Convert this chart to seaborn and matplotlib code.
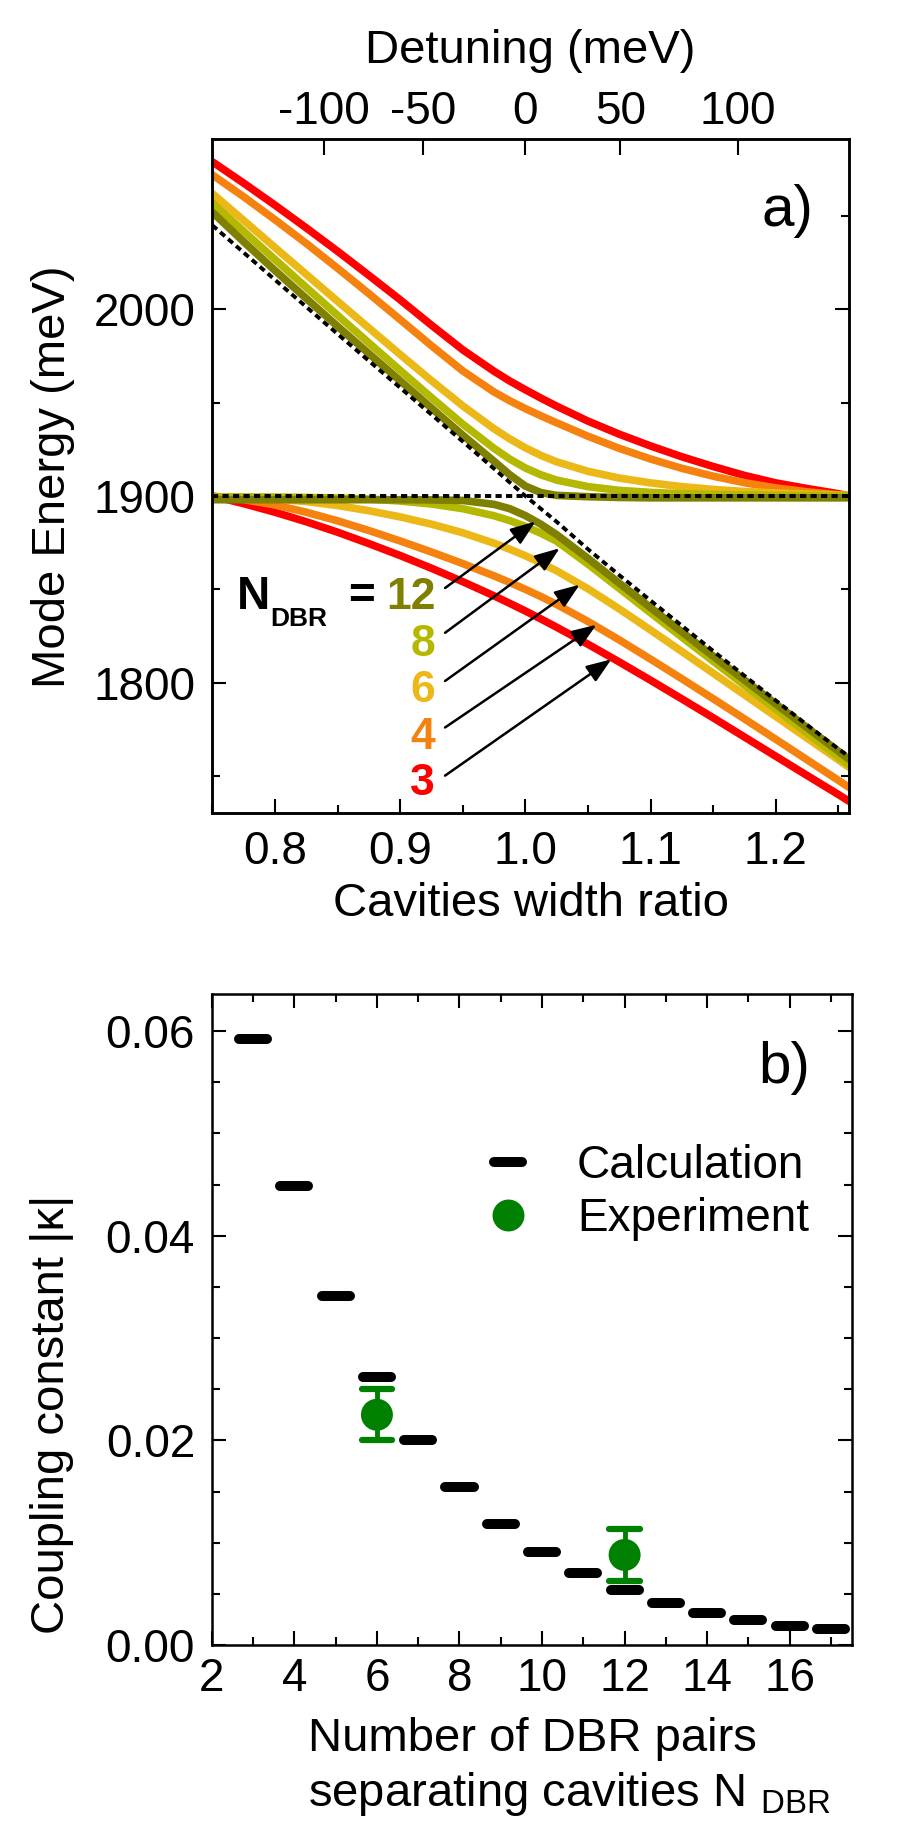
import numpy as np
import pandas as pd
import matplotlib
matplotlib.use("Agg")
import matplotlib.pyplot as plt
from matplotlib.lines import Line2D
from matplotlib.ticker import MultipleLocator, FormatStrFormatter
import seaborn as sns

sns.set_style("ticks")
plt.rcParams["font.family"] = ["Liberation Sans", "DejaVu Sans"]
plt.rcParams["mathtext.fontset"] = "custom"
plt.rcParams["mathtext.rm"] = "Liberation Sans"
plt.rcParams["mathtext.bf"] = "Liberation Sans:bold"
plt.rcParams["axes.linewidth"] = 1.8
for key in ["text.color", "axes.labelcolor", "xtick.color", "ytick.color", "axes.edgecolor"]:
    plt.rcParams[key] = "black"

# ---- panel a: mode energies (meV) vs cavities width ratio
ratio = [0.75, 0.775, 0.80, 0.825, 0.85, 0.875, 0.90, 0.925, 0.95, 0.975, 0.9875, 1.0,
         1.0125, 1.025, 1.05, 1.075, 1.10, 1.125, 1.15, 1.175, 1.20, 1.225, 1.25, 1.2585]

upper_n3 = [2079, 2067.6, 2055.8, 2043.6, 2031.1, 2018.2, 2005.1, 1991.5, 1978.3, 1966.8, 1961.6,
            1956.9, 1952.4, 1948.1, 1940.1, 1933.1, 1926.8, 1921.0, 1915.8, 1911.0, 1907.0,
            1904.0, 1901.2, 1900.0]
lower_n3 = [1900, 1895.9, 1891.3, 1886.2, 1880.6, 1874.5, 1868.1, 1861.3, 1854.1, 1846.5, 1842.5,
            1838.4, 1834.1, 1829.7, 1820.6, 1811.1, 1801.3, 1791.3, 1781.2, 1770.9, 1760.6,
            1750.3, 1740.1, 1736.5]
upper_n4 = [2072, 2060.3, 2048.0, 2035.3, 2022.0, 2008.4, 1994.5, 1980.5, 1967.0, 1955.7, 1951.0,
            1946.8, 1942.9, 1939.2, 1932.0, 1925.5, 1919.8, 1914.8, 1910.6, 1907.1, 1904.3,
            1902.2, 1900.6, 1900.0]
lower_n4 = [1900, 1898.1, 1895.2, 1891.3, 1886.7, 1881.5, 1875.9, 1870.0, 1863.8, 1857.2, 1853.7,
            1850.0, 1846.1, 1841.9, 1832.8, 1822.9, 1812.6, 1802.1, 1791.4, 1780.6, 1769.7,
            1758.7, 1747.7, 1743.9]
upper_n6 = [2062, 2047.6, 2033.1, 2018.7, 2004.3, 1990.0, 1975.8, 1961.8, 1948.3, 1936.0, 1930.6,
            1925.8, 1921.7, 1918.3, 1913.2, 1909.6, 1907.0, 1905.0, 1903.5, 1902.4, 1901.6,
            1901.0, 1900.5, 1900.3]
lower_n6 = [1899.5, 1899.1, 1898.4, 1897.0, 1894.9, 1892.1, 1888.8, 1884.9, 1880.3, 1874.7, 1871.5,
            1868.0, 1864.1, 1859.9, 1850.3, 1839.5, 1828.2, 1816.7, 1805.1, 1793.5, 1781.9,
            1770.3, 1758.7, 1754.7]
upper_n8 = [2057, 2041.8, 2026.7, 2011.7, 1996.8, 1982.0, 1967.3, 1952.7, 1938.5, 1925.5, 1919.8,
            1915.0, 1911.3, 1908.5, 1905.0, 1903.0, 1901.9, 1901.2, 1900.8, 1900.5, 1900.3,
            1900.2, 1900.1, 1900.0]
lower_n8 = [1899.5, 1899.5, 1899.4, 1899.2, 1898.9, 1898.3, 1897.3, 1895.7, 1893.2, 1889.4, 1886.8,
            1883.7, 1880.0, 1875.8, 1863.5, 1850.5, 1837.4, 1824.4, 1811.5, 1798.6, 1785.8,
            1773.0, 1760.3, 1756.0]
upper_n12 = [2052, 2036.2, 2020.8, 2005.8, 1990.9, 1976.3, 1961.7, 1947.1, 1932.6, 1918.6, 1911.4,
             1905.3, 1901.8, 1900.3, 1899.6, 1899.2, 1899.0, 1899.0, 1899.0, 1899.0, 1899.0,
             1899.0, 1899.0, 1899.0]
lower_n12 = [1898, 1898, 1898, 1898, 1898, 1898, 1898, 1897.9, 1897.6, 1895.5, 1893.2, 1889.5,
             1884.8, 1879.3, 1866.6, 1853.3, 1840.2, 1827.2, 1814.2, 1801.4, 1788.6, 1775.9,
             1763.3, 1759.0]

uncoupled_tuned = [2045, 2030.4, 2015.8, 2001.3, 1986.8, 1972.4, 1958.0, 1943.6, 1929.2, 1914.6,
                   1907.3, 1900.0, 1893.1, 1886.2, 1871.5, 1857.6, 1844.0, 1830.5, 1817.0,
                   1803.7, 1790.5, 1777.4, 1764.5, 1760.5]
uncoupled_fixed = [1900.0] * len(ratio)

n_dbr = [3, 4, 6, 8, 12]
n_colors = ["#ff0000", "#f5820f", "#ebb817", "#b4b800", "#7f7f00"]

detuning_labels = ["-100", "-50", "0", "50", "100"]
detuning_pos = [0.839, 0.918, 1.0, 1.076, 1.170]

# arrow annotations, top to bottom (label baseline, arrow tail and tip)
label_n = [12, 8, 6, 4, 3]
label_base = [1839.2, 1814.3, 1789.4, 1764.5, 1739.6]
tail_e = [1850.7, 1826.7, 1800.9, 1776.0, 1750.2]
tip_r = [1.0081, 1.0274, 1.0434, 1.0568, 1.0687]
tip_e = [1886.3, 1872.0, 1852.5, 1831.0, 1812.5]

# ---- panel b: coupling constant
n_pairs = [3, 4, 5, 6, 7, 8, 9, 10, 11, 12, 13, 14, 15, 16, 17]
calc_kappa = [0.0592, 0.0449, 0.0341, 0.0262, 0.0200, 0.0154, 0.0118, 0.0091,
              0.0070, 0.0054, 0.0041, 0.0031, 0.0024, 0.0019, 0.0016]
exp_n = [6, 12]
exp_kappa = [0.0225, 0.0088]
exp_err = [0.0025, 0.0025]

green = "#008000"
color_of = dict(zip(n_dbr, n_colors))

branches = {
    3: (upper_n3, lower_n3), 4: (upper_n4, lower_n4), 6: (upper_n6, lower_n6),
    8: (upper_n8, lower_n8), 12: (upper_n12, lower_n12),
}
rows = []
for n in n_dbr:
    for name, vals in zip(["upper", "lower"], branches[n]):
        for r, e in zip(ratio, vals):
            rows.append({"ratio": r, "energy": e, "N": n, "branch": name})
modes = pd.DataFrame(rows)

fig = plt.figure(figsize=(9, 18.46), dpi=100)
ax_a = fig.add_axes([0.2359, 0.5594, 0.7074, 0.3651])
ax_b = fig.add_axes([0.2353, 0.1089, 0.7110, 0.3525])

# ---------------- panel a
sns.lineplot(data=modes, x="ratio", y="energy", hue="N", units="branch",
             estimator=None, sort=False, palette=color_of,
             hue_order=n_dbr, lw=5.5, legend=False, ax=ax_a)
sns.lineplot(x=ratio, y=uncoupled_tuned, color="k", lw=2.8,
             linestyle=(0, (1.6, 1.1)), ax=ax_a, zorder=5)
sns.lineplot(x=ratio, y=uncoupled_fixed, color="k", lw=2.8,
             linestyle=(0, (1.6, 1.1)), ax=ax_a, zorder=5)

ax_a.set_xlim(0.75, 1.2585)
ax_a.set_ylim(1730, 2091)
ax_a.xaxis.set_major_locator(MultipleLocator(0.1))
ax_a.xaxis.set_minor_locator(MultipleLocator(0.05))
ax_a.xaxis.set_major_formatter(FormatStrFormatter("%.1f"))
ax_a.yaxis.set_major_locator(MultipleLocator(100))
ax_a.yaxis.set_minor_locator(MultipleLocator(50))
ax_a.tick_params(which="both", direction="in", top=False, right=True, width=1.5,
                 labelsize=33)
ax_a.tick_params(which="major", length=10, pad=12)
ax_a.tick_params(which="minor", length=5.5)
ax_a.set_xlabel("Cavities width ratio", fontsize=34, labelpad=6)
ax_a.set_ylabel("Mode Energy (meV)", fontsize=34)
ax_a.yaxis.set_label_coords(-0.215, 0.5)

ax_t = ax_a.twiny()
ax_t.set_xlim(ax_a.get_xlim())
ax_t.set_xticks(detuning_pos)
ax_t.set_xticklabels(detuning_labels)
ax_t.tick_params(direction="in", length=11.5, width=1.5, labelsize=33, pad=4)
ax_t.set_xlabel("Detuning (meV)", fontsize=34, labelpad=19)

for n, yb, ye, tx, ty in zip(label_n, label_base, tail_e, tip_r, tip_e):
    ax_a.text(0.928, yb, str(n), color=color_of[n], fontsize=32, fontweight="bold",
              ha="right", va="baseline")
    ax_a.annotate("", xy=(tx, ty), xytext=(0.9359, ye),
                  arrowprops=dict(arrowstyle="-|>,head_length=0.8,head_width=0.3",
                                  color="k", lw=1.8, mutation_scale=19,
                                  shrinkA=0, shrinkB=0))
ax_a.text(0.7695, label_base[0], "N", fontsize=33, fontweight="bold",
          ha="left", va="baseline")
ax_a.text(0.7961, 1830.1, "DBR", fontsize=19, fontweight="bold",
          ha="left", va="baseline")
ax_a.text(0.8584, label_base[0], "=", fontsize=33, fontweight="bold",
          ha="left", va="baseline")
ax_a.text(0.944, 0.893, "a)", transform=ax_a.transAxes, fontsize=42,
          ha="right", va="center")

# ---------------- panel b
n_arr = np.array(n_pairs)
ax_b.hlines(calc_kappa, n_arr - 0.34, n_arr + 0.34, colors="k", lw=7.2,
            capstyle="round", zorder=3)
ex = np.array(exp_n)
ey = np.array(exp_kappa)
ee = np.array(exp_err)
ax_b.vlines(ex, ey - ee, ey + ee, colors=green, lw=3.5, zorder=4)
ax_b.hlines(np.concatenate([ey - ee, ey + ee]), np.concatenate([ex, ex]) - 0.37,
            np.concatenate([ex, ex]) + 0.37, colors=green, lw=4.5,
            capstyle="round", zorder=4)
sns.scatterplot(x=exp_n, y=exp_kappa, s=530, color=green, edgecolor="none",
                zorder=5, ax=ax_b)

ax_b.set_xlim(2, 17.5)
ax_b.set_ylim(0, 0.0636)
ax_b.xaxis.set_major_locator(MultipleLocator(2))
ax_b.xaxis.set_minor_locator(MultipleLocator(1))
ax_b.yaxis.set_major_locator(MultipleLocator(0.02))
ax_b.yaxis.set_minor_locator(MultipleLocator(0.005))
ax_b.yaxis.set_major_formatter(FormatStrFormatter("%.2f"))
ax_b.tick_params(which="both", direction="in", top=True, right=True, width=1.5,
                 labelsize=33)
ax_b.tick_params(which="major", length=10)
ax_b.tick_params(which="minor", length=5.5)
ax_b.tick_params(axis="x", which="major", pad=9)
ax_b.tick_params(axis="y", which="major", pad=12)
ax_b.set_xlabel("Number of DBR pairs\nseparating cavities N $_{\\mathrm{DBR}}$",
                fontsize=34, multialignment="left", linespacing=1.25)
ax_b.xaxis.set_label_coords(0.558, -0.111)
ax_b.set_ylabel("Coupling constant |κ|", fontsize=34)
ax_b.yaxis.set_label_coords(-0.215, 0.355)
ax_b.text(0.935, 0.887, "b)", transform=ax_b.transAxes, fontsize=42,
          ha="right", va="center")

handles = [
    Line2D([], [], color="k", lw=7.2, solid_capstyle="round"),
    Line2D([], [], ls="none", marker="o", ms=23, color=green, mec="none"),
]
ax_b.legend(handles, ["Calculation", "Experiment"], loc="upper left",
            bbox_to_anchor=(0.441, 0.770), frameon=False, fontsize=33,
            handlelength=0.61, handletextpad=1.2, labelspacing=0.2,
            borderpad=0, borderaxespad=0)

fig.savefig("out.png", dpi=100)
